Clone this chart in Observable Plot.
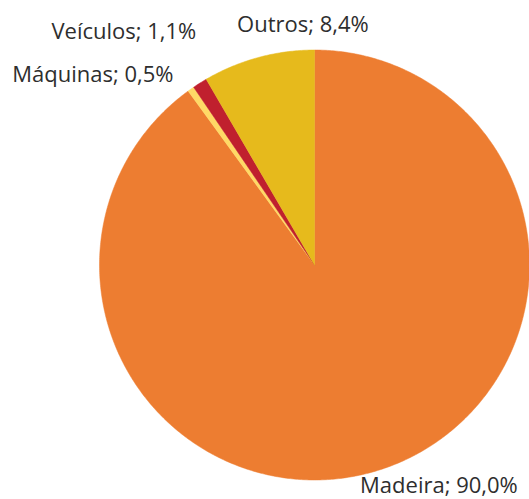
<!DOCTYPE html>
<html>
<head>
<meta charset="utf-8">
<script src="https://cdn.jsdelivr.net/npm/d3@7"></script>
<script src="https://cdn.jsdelivr.net/npm/@observablehq/plot@0.6"></script>
<style>
  html, body { margin: 0; padding: 0; background: #fff; }
  #chart svg { display: block; }
</style>
</head>
<body>
<div id="chart"></div>
<script>
// Data (clockwise from 12 o'clock)
const categories = ["Madeira", "Máquinas", "Veículos", "Outros"];
const shares = [90.0, 0.5, 1.1, 8.4];
const labels = ["Madeira; 90,0%", "Máquinas; 0,5%", "Veículos; 1,1%", "Outros; 8,4%"];
const colors = ["#ED7D31", "#FFD966", "#C0202E", "#E6BA1C"];

// Layout (pixels)
const W = 529, H = 499;
const CX = 314, CY = 264.5, R = 215;
// label offsets from the slice mid-angle point on the rim (pixels)
const labelOffset = {
  "Madeira": [58, 16],
  "Máquinas": [-98, -14.5],
  "Veículos": [-76, -51],
  "Outros": [44.5, -32]
};

const total = d3.sum(shares);
const slices = [];
const polys = [];
let acc = 0;
categories.forEach((name, i) => {
  const a0 = acc / total * 2 * Math.PI;
  acc += shares[i];
  const a1 = acc / total * 2 * Math.PI;
  const n = Math.max(4, Math.ceil((a1 - a0) / (Math.PI / 360)));
  polys.push({name, x: 0, y: 0});
  for (let k = 0; k <= n; k++) {
    const a = a0 + (a1 - a0) * k / n;
    polys.push({name, x: Math.sin(a), y: Math.cos(a)});
  }
  polys.push({name, x: 0, y: 0});
  const am = (a0 + a1) / 2;
  slices.push({name, label: labels[i], x: Math.sin(am), y: Math.cos(am),
               dx: labelOffset[name][0], dy: labelOffset[name][1]});
});

const chart = Plot.plot({
  width: W,
  height: H,
  margin: 0,
  x: {domain: [-CX / R, (W - CX) / R], range: [0, W], axis: null},
  y: {domain: [-(H - CY) / R, CY / R], range: [H, 0], axis: null},
  color: {domain: categories, range: colors},
  style: {fontFamily: "'Open Sans', sans-serif", background: "#fff"},
  marks: [
    Plot.line(polys, {x: "x", y: "y", z: "name", fill: "name", stroke: "name", strokeWidth: 0.5, curve: "linear"}),
    ...slices.map(s => Plot.text([s], {
      x: "x", y: "y", text: "label", dx: s.dx, dy: s.dy,
      textAnchor: "middle", lineAnchor: "middle",
      fontSize: 22, fill: "#2e2e2e"
    }))
  ]
});
document.getElementById("chart").appendChild(chart);
</script>
</body>
</html>
